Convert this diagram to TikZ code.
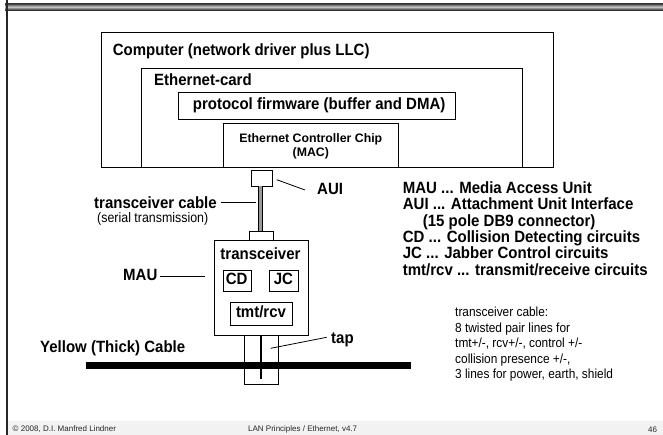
\documentclass[tikz,border=0pt]{standalone}
\usepackage{fontspec}
\setmainfont{Liberation Sans}
\newfontfamily\narrowsans{Liberation Sans}[FakeStretch=0.92]
\newfontfamily\narrowreg{Liberation Sans}[FakeStretch=0.9]
\begin{document}
\begin{tikzpicture}[x=1pt,y=-1pt,
  box/.style={draw=black, line width=0.9pt, inner sep=0pt, anchor=north west},
  bigfont/.style={font=\narrowsans\fontsize{16.3}{16.3}\selectfont\bfseries, text height=11.5pt, text depth=3pt},
  big/.style={inner sep=0pt, anchor=west, bigfont},
  small/.style={inner sep=0pt, anchor=west, font=\narrowreg\fontsize{13.2}{13.2}\selectfont, text height=9.5pt, text depth=2.5pt},
  foot/.style={inner sep=0pt, anchor=west, font=\fontsize{8}{8}\selectfont, text=black!85},
  lead/.style={draw=black, line width=0.8pt}]
\useasboundingbox (0,0) rectangle (663,435);
\fill[white] (0,0) rectangle (663,435);
% footer background
\fill[black!5] (7,421) rectangle (663,435);
% top bar
\shade[top color=black!85, bottom color=black!85, middle color=black!20] (5,3.3) rectangle (663,10.2);
\draw[black!80, line width=0.5pt] (5,3.5) -- (663,3.5) (5,10) -- (663,10);
% left rule
\draw[black!85, line width=1.6pt] (6.7,0) -- (6.7,435);

% computer boxes
\node[box, minimum width=452.4pt, minimum height=134.5pt] (comp) at (100.6,32.5) {};
\node[box, minimum width=381.3pt, minimum height=99.3pt] (card) at (140.7,67.7) {};
\node[box, minimum width=277.3pt, minimum height=27pt] (fw) at (177.7,92.3) {};
\node[box, minimum width=175pt, minimum height=44pt] (chip) at (223.3,123) {};
\node[big] (tcomp) at (112.7,50.8) {Computer (network driver plus LLC)};
\node[big] (tcard) at (154,80.8) {Ethernet-card};
\node[big] (tfw) at (192.7,105) {protocol firmware (buffer and DMA)};
\node[inner sep=0pt, font=\fontsize{12.3}{14.3}\selectfont\bfseries, align=center] (tchip) at (310.8,146.2) {Ethernet Controller Chip\\(MAC)};

% AUI connector and cable
\node[box, minimum width=21.8pt, minimum height=16pt] (aui) at (250.5,170) {};
\fill[black!40] (258,186) rectangle (263.3,230.7);
\draw[line width=1.1pt] (258.5,186) -- (258.5,230.7) (262.8,186) -- (262.8,230.7);
\node[box, minimum width=23.4pt, minimum height=9.3pt] (conn) at (249.3,230.7) {};

% transceiver
\node[box, minimum width=93.5pt, minimum height=95pt] (trx) at (214,240) {};
\node[inner sep=0pt, bigfont] (ttrx) at (260.5,255.2) {transceiver};
\node[box, minimum width=28pt, minimum height=21pt] (cd) at (222.7,270) {};
\node[inner sep=0pt, bigfont] (tcd) at (236.7,280.7) {CD};
\node[box, minimum width=28.5pt, minimum height=21pt] (jc) at (269.2,270) {};
\node[inner sep=0pt, bigfont] (tjc) at (283.4,280.7) {JC};
\node[box, minimum width=62pt, minimum height=23.3pt] (tr) at (230,301.7) {};
\node[inner sep=0pt, bigfont] (ttr) at (261,313) {tmt/rcv};

% tap and yellow cable
\node[box, minimum width=34pt, minimum height=49.3pt] (tap) at (244.3,335) {};
\draw[line width=7.6pt] (85.7,365.5) -- (410.7,365.5);
\draw[line width=2pt] (260.7,335) -- (260.7,379);

% labels and leads
\coordinate (auiA) at (276.7,179.7);
\coordinate (auiB) at (305,190);
\draw[lead] (auiA) -- (auiB);
\node[big] (lauI) at (317,190) {AUI};

\node[big] (lcab) at (94,204.2) {transceiver cable};
\node[small, font=\narrowreg\fontsize{13.8}{13.8}\selectfont] (lser) at (97,219.5) {(serial transmission)};
\coordinate (cabA) at (220.7,202.5);
\coordinate (cabB) at (255.5,202.5);
\draw[lead] (cabA) -- (cabB);

\node[big] (lmau) at (123,276) {MAU};
\coordinate (mauA) at (160,276.7);
\coordinate (mauB) at (205,276.7);
\draw[lead] (mauA) -- (mauB);

\node[big] (lyel) at (40,348.2) {Yellow (Thick) Cable};
\coordinate (tapA) at (270.7,348.3);
\coordinate (tapB) at (326.7,337.3);
\draw[lead] (tapA) -- (tapB);
\node[big] (ltap) at (331,339.2) {tap};

% legend
\node[big] (g1) at (402.7,189.2) {MAU ... Media Access Unit};
\node[big] (g2) at (402.7,205.7) {AUI ... Attachment Unit Interface};
\node[big] (g3) at (422.7,222.2) {(15 pole DB9 connector)};
\node[big] (g4) at (402.7,238.5) {CD ... Collision Detecting circuits};
\node[big] (g5) at (402.7,254.7) {JC ... Jabber Control circuits};
\node[big] (g6) at (402.7,270.9) {tmt/rcv ... transmit/receive circuits};

\node[small] (h1) at (455,313) {transceiver cable:};
\node[small] (h2) at (455,328.5) {8 twisted pair lines for};
\node[small] (h3) at (455,344) {tmt+/-, rcv+/-, control +/-};
\node[small] (h4) at (455,359.5) {collision presence +/-,};
\node[small] (h5) at (455,375) {3 lines for power, earth, shield};

% footer
\node[foot] (f1) at (12.5,429.5) {© 2008, D.I. Manfred Lindner};
\node[foot] (f2) at (248,429.5) {LAN Principles / Ethernet, v4.7};
\node[foot] (f3) at (648,429.5) {46};
\end{tikzpicture}
\end{document}
